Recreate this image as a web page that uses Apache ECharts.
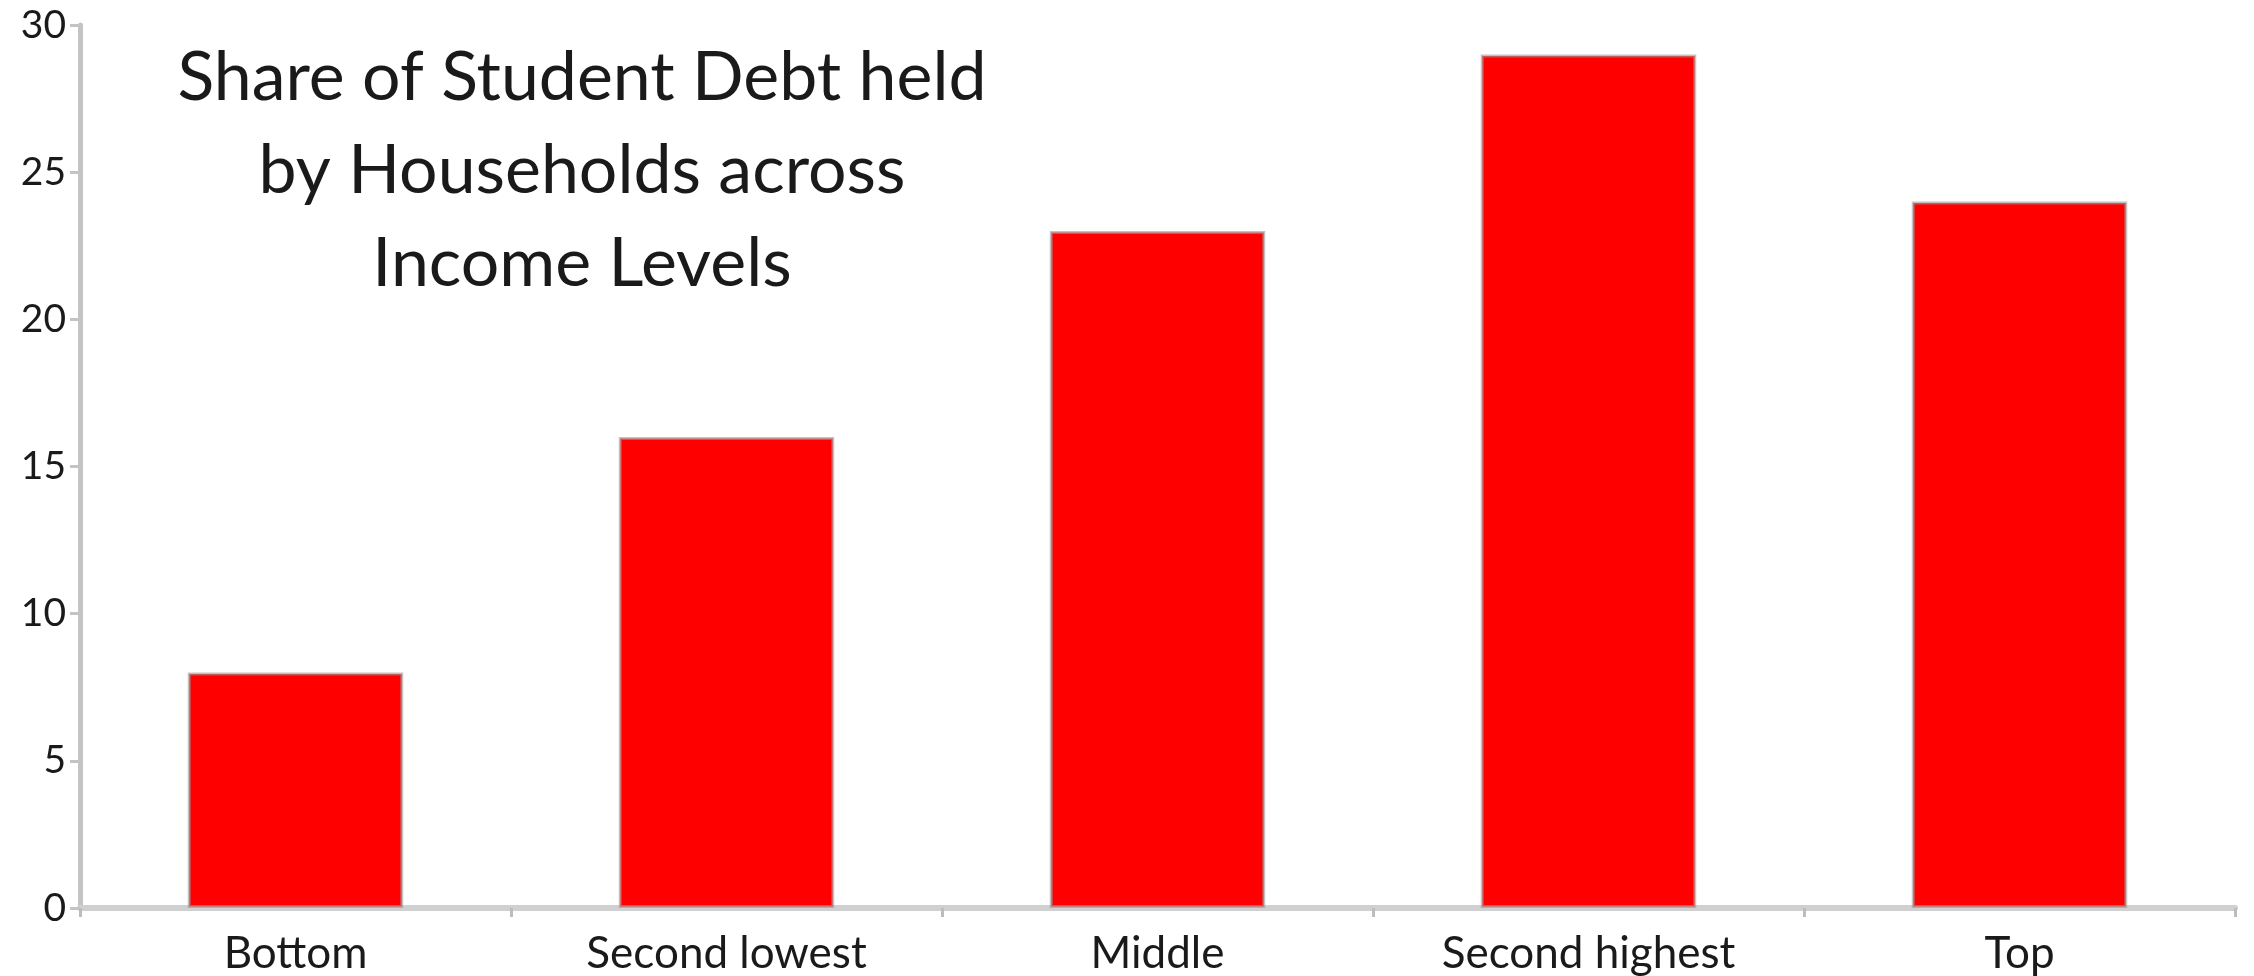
<!DOCTYPE html>
<html>
<head>
<meta charset="utf-8">
<title>Share of Student Debt</title>
<script src="https://cdn.jsdelivr.net/npm/echarts@6/dist/echarts.min.js"></script>
<style>
  html, body { margin: 0; padding: 0; background: #fff; }
  #chart { width: 2254px; height: 976px; }
</style>
</head>
<body>
<div id="chart"></div>
<script>
var categories = ['Bottom', 'Second lowest', 'Middle', 'Second highest', 'Top'];
var shares = [8, 16, 23, 29, 24];
var titleText = 'Share of Student Debt held\nby Households across\nIncome Levels';

var myChart = echarts.init(document.getElementById('chart'));

var option = {
  animation: false,
  title: {
    text: titleText,
    left: 582,
    top: 32,
    padding: 0,
    textAlign: 'center',
    textStyle: {
      fontFamily: 'Lato',
      fontWeight: 'normal',
      fontSize: 68,
      lineHeight: 93,
      color: '#1a1a1a'
    }
  },
  grid: {
    left: 80,
    right: 19,
    top: 25,
    bottom: 68
  },
  xAxis: {
    type: 'category',
    data: categories,
    axisLine: {
      lineStyle: { color: '#d0d0d0', width: 6 }
    },
    axisTick: {
      show: true,
      length: 9,
      lineStyle: { color: '#bdbdbd', width: 3 }
    },
    axisLabel: {
      margin: 24,
      fontFamily: 'Lato',
      fontSize: 44,
      color: '#1a1a1a'
    }
  },
  yAxis: {
    type: 'value',
    min: 0,
    max: 30,
    interval: 5,
    splitLine: { show: false },
    axisLine: {
      show: true,
      lineStyle: { color: '#c4c4c4', width: 5 }
    },
    axisTick: {
      show: true,
      length: 10,
      lineStyle: { color: '#c4c4c4', width: 3 }
    },
    axisLabel: {
      margin: 14,
      fontFamily: 'Lato',
      fontSize: 39,
      color: '#1a1a1a'
    }
  },
  series: [
    {
      type: 'bar',
      name: 'Share',
      data: shares,
      barWidth: '50%',
      itemStyle: {
        color: '#ff0000',
        borderColor: 'rgba(160,150,150,0.6)',
        borderWidth: 3
      }
    }
  ]
};

myChart.setOption(option);
</script>
</body>
</html>
